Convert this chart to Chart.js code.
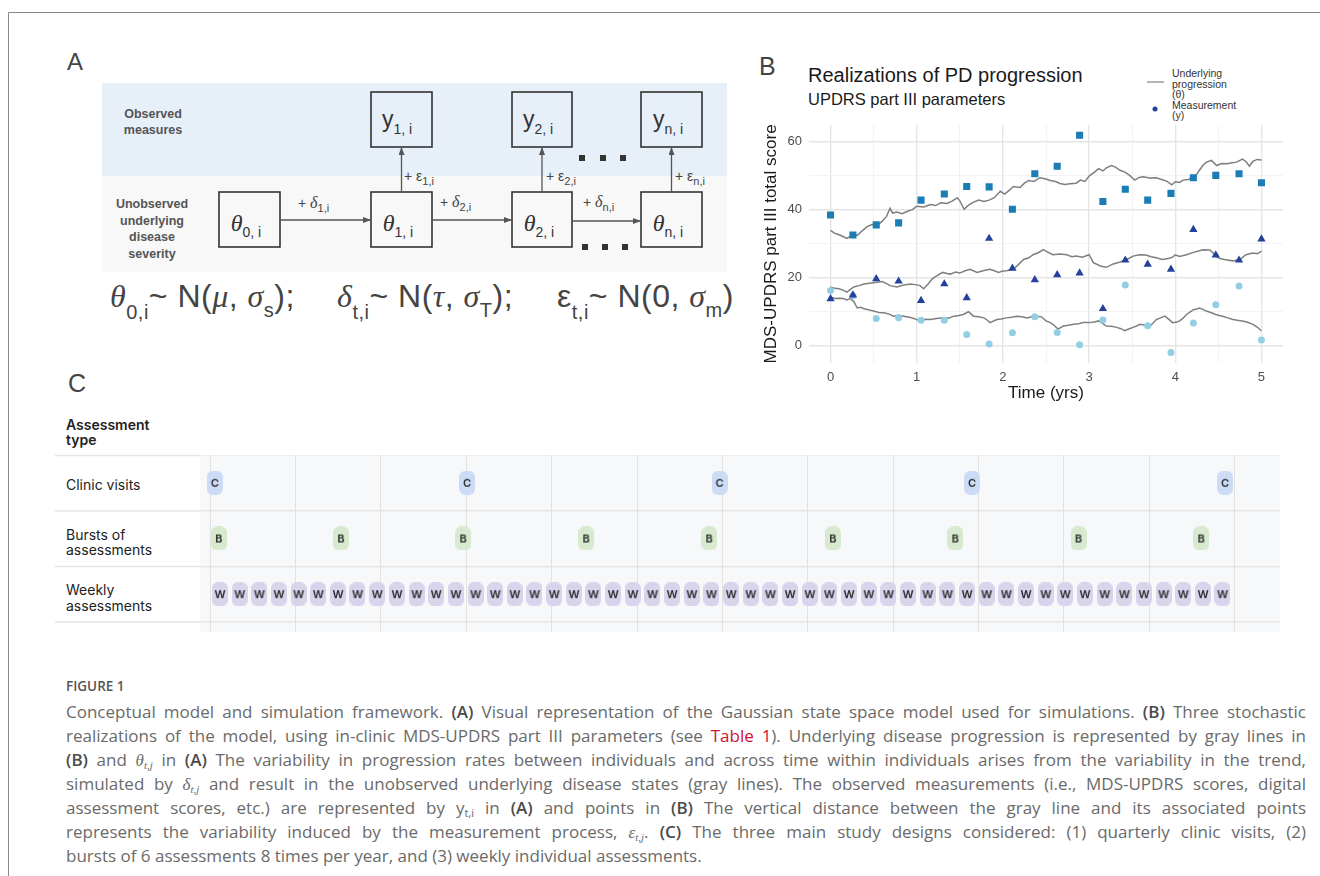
<!DOCTYPE html>
<html>
<head>
<meta charset="utf-8">
<script src="https://cdn.jsdelivr.net/npm/chart.js@4.4.1/dist/chart.umd.min.js"></script>
<style>
  body { margin: 0; background: #fff; }
  #page { position: relative; width: 1320px; height: 876px; overflow: hidden; font-family: 'Liberation Sans', Arial, sans-serif; }
  .abs { position: absolute; }
  .m { font-family: 'Liberation Serif', 'DejaVu Serif', serif; font-style: italic; }
  #caption { position: absolute; left: 66px; top: 700px; width: 1240px; font-family: 'Open Sans', sans-serif; font-size: 17px; color: #6a6a6a; }
  #caption div { height: 24px; line-height: 24px; text-align: justify; text-align-last: justify; }
  #caption div.last { text-align-last: left; }
  #caption b { font-weight: 600; color: #4a4a4a; }
  #caption sub { font-size: 11px; line-height: 0; vertical-align: -3px; }
  #caption .red { color: #d0102e; }
</style>
</head>
<body>
<div id="page">

<svg class="abs" style="left:0;top:0" width="1320" height="876" font-family="Liberation Sans, Arial, sans-serif">
  <defs>
    <marker id="ah" viewBox="0 0 8 6" refX="8" refY="3" markerWidth="8" markerHeight="6" markerUnits="userSpaceOnUse" orient="auto">
      <path d="M0,0 L8,3 L0,6 z" fill="#555"/>
    </marker>
  </defs>

  <!-- frame -->
  <line x1="8.5" y1="12.5" x2="1320" y2="12.5" stroke="#8a8a8a" stroke-width="1"/>
  <line x1="8.5" y1="12.5" x2="8.5" y2="876" stroke="#8a8a8a" stroke-width="1"/>

  <!-- panel A -->
  <text x="67" y="70" font-size="24" fill="#444">A</text>
  <rect x="102" y="83" width="625" height="93" fill="#e7eff9"/>
  <rect x="102" y="176" width="625" height="96" fill="#f8f8f8"/>
  <g font-weight="bold" font-size="12.5" fill="#555" text-anchor="middle">
    <text x="153" y="118">Observed</text>
    <text x="153" y="134">measures</text>
    <text x="152" y="208">Unobserved</text>
    <text x="152" y="225">underlying</text>
    <text x="152" y="241">disease</text>
    <text x="152" y="258">severity</text>
  </g>
  <g fill="none" stroke="#333" stroke-width="1.6">
    <rect x="219" y="192" width="61" height="55"/>
    <rect x="371" y="92" width="61" height="55"/>
    <rect x="371" y="192" width="61" height="55"/>
    <rect x="512" y="92" width="60" height="55"/>
    <rect x="512" y="192" width="60" height="55"/>
    <rect x="641" y="92" width="61" height="55"/>
    <rect x="641" y="192" width="61" height="55"/>
  </g>
  <g stroke="#555" stroke-width="1.3">
    <line x1="280" y1="220" x2="371" y2="220" marker-end="url(#ah)"/>
    <line x1="432" y1="220" x2="512" y2="220" marker-end="url(#ah)"/>
    <line x1="572" y1="221" x2="641" y2="221" marker-end="url(#ah)"/>
    <line x1="401.5" y1="192" x2="401.5" y2="147" marker-end="url(#ah)"/>
    <line x1="542" y1="192" x2="542" y2="147" marker-end="url(#ah)"/>
    <line x1="671.5" y1="192" x2="671.5" y2="147" marker-end="url(#ah)"/>
  </g>
  <g fill="#333" text-anchor="middle">
    <text x="397" y="127" font-size="23">y<tspan font-size="14" dy="7">1, i</tspan></text>
    <text x="538" y="127" font-size="23">y<tspan font-size="14" dy="7">2, i</tspan></text>
    <text x="668" y="127" font-size="23">y<tspan font-size="14" dy="7">n, i</tspan></text>
    <text x="246" y="231" font-size="24"><tspan class="m">θ</tspan><tspan font-size="14" dy="6">0, i</tspan></text>
    <text x="398" y="231" font-size="24"><tspan class="m">θ</tspan><tspan font-size="14" dy="6">1, i</tspan></text>
    <text x="539" y="231" font-size="24"><tspan class="m">θ</tspan><tspan font-size="14" dy="6">2, i</tspan></text>
    <text x="668" y="231" font-size="24"><tspan class="m">θ</tspan><tspan font-size="14" dy="6">n, i</tspan></text>
  </g>
  <g fill="#444" font-size="14">
    <text x="298" y="208">+ <tspan class="m" font-size="16">δ</tspan><tspan font-size="11" dy="4">1,i</tspan></text>
    <text x="440" y="207">+ <tspan class="m" font-size="16">δ</tspan><tspan font-size="11" dy="4">2,i</tspan></text>
    <text x="583" y="207">+ <tspan class="m" font-size="16">δ</tspan><tspan font-size="11" dy="4">n,i</tspan></text>
    <text x="404" y="181">+ ε<tspan font-size="11" dy="4">1,i</tspan></text>
    <text x="546" y="181">+ ε<tspan font-size="11" dy="4">2,i</tspan></text>
    <text x="675" y="181">+ ε<tspan font-size="11" dy="4">n,i</tspan></text>
  </g>
  <g fill="#333">
    <rect x="579" y="155" width="6" height="6"/>
    <rect x="600" y="155" width="6" height="6"/>
    <rect x="620" y="155" width="6" height="6"/>
    <rect x="582" y="244" width="6" height="6"/>
    <rect x="602" y="244" width="6" height="6"/>
    <rect x="622" y="244" width="6" height="6"/>
  </g>
  <g fill="#444" font-size="32" letter-spacing="0.5">
    <text x="110" y="307"><tspan class="m">θ</tspan><tspan font-size="20" dy="12">0,i</tspan><tspan dy="-12">~ N(</tspan><tspan class="m">μ</tspan>, <tspan class="m">σ</tspan><tspan font-size="20" dy="10">s</tspan><tspan dy="-10">);</tspan></text>
    <text x="337" y="307"><tspan class="m">δ</tspan><tspan font-size="20" dy="12">t,i</tspan><tspan dy="-12">~ N(</tspan><tspan class="m">τ</tspan>, <tspan class="m">σ</tspan><tspan font-size="20" dy="10">T</tspan><tspan dy="-10">);</tspan></text>
    <text x="557" y="307">ε<tspan font-size="20" dy="12">t,i</tspan><tspan dy="-12">~ N(0, </tspan><tspan class="m">σ</tspan><tspan font-size="20" dy="10">m</tspan><tspan dy="-10">)</tspan></text>
  </g>

  <!-- panel B labels -->
  <text x="759" y="75" font-size="25" fill="#444">B</text>
  <text x="808" y="82" font-size="20" fill="#1a1a1a">Realizations of PD progression</text>
  <text x="808" y="105" font-size="16.5" fill="#1a1a1a">UPDRS part III parameters</text>
  <line x1="1147" y1="82" x2="1164" y2="82" stroke="#8c8c8c" stroke-width="1.3"/>
  <circle cx="1155" cy="109" r="2.5" fill="#24409a"/>
  <g font-size="10.5" fill="#333">
    <text x="1172" y="77">Underlying</text>
    <text x="1172" y="87.5">progression</text>
    <text x="1172" y="98">(θ)</text>
    <text x="1172" y="108.5">Measurement</text>
    <text x="1172" y="119">(y)</text>
  </g>

  <!-- panel C labels -->
  <text x="68" y="392" font-size="25" fill="#444">C</text>
  <g font-family="Inter, sans-serif" font-size="14" fill="#222">
    <text x="66" y="430" font-weight="600">Assessment</text>
    <text x="66" y="445" font-weight="600">type</text>
    <text x="66" y="490">Clinic visits</text>
    <text x="66" y="540">Bursts of</text>
    <text x="66" y="555">assessments</text>
    <text x="66" y="595">Weekly</text>
    <text x="66" y="611">assessments</text>
  </g>
  <g stroke="#e6e6e6" stroke-width="1.5">
    <line x1="55" y1="455.5" x2="200" y2="455.5"/>
    <line x1="55" y1="511" x2="200" y2="511"/>
    <line x1="55" y1="566.5" x2="200" y2="566.5"/>
    <line x1="55" y1="622" x2="200" y2="622"/>
  </g>

  <text x="66" y="691" font-family="Open Sans, sans-serif" font-size="13.5" font-weight="600" fill="#555">FIGURE 1</text>
</svg>

<div class="abs" style="left:740px;top:110px;width:560px;height:300px"><canvas id="progChart"></canvas></div>
<div class="abs" style="left:200px;top:455px;width:1080px;height:177px;background:#f7f8fa"><canvas id="designChart"></canvas></div>

<div id="caption">
  <div>Conceptual model and simulation framework. <b>(A)</b> Visual representation of the Gaussian state space model used for simulations. <b>(B)</b> Three stochastic</div>
  <div>realizations of the model, using in-clinic MDS-UPDRS part III parameters (see <span class="red">Table 1</span>). Underlying disease progression is represented by gray lines in</div>
  <div><b>(B)</b> and <span class="m">θ<sub>t,j</sub></span> in <b>(A)</b> The variability in progression rates between individuals and across time within individuals arises from the variability in the trend,</div>
  <div>simulated by <span class="m">δ<sub>t,j</sub></span> and result in the unobserved underlying disease states (gray lines). The observed measurements (i.e., MDS-UPDRS scores, digital</div>
  <div>assessment scores, etc.) are represented by y<sub>t,i</sub> in <b>(A)</b> and points in <b>(B)</b> The vertical distance between the gray line and its associated points</div>
  <div>represents the variability induced by the measurement process, <span class="m">ε<sub>t,j</sub></span>. <b>(C)</b> The three main study designs considered: (1) quarterly clinic visits, (2)</div>
  <div class="last">bursts of 6 assessments 8 times per year, and (3) weekly individual assessments.</div>
</div>

</div>
<script>
// Panel B: measurement times (yrs) and scores for the three realizations
const measureTimes = [0, 0.26, 0.53, 0.79, 1.05, 1.32, 1.58, 1.84, 2.11, 2.37, 2.63, 2.89, 3.16, 3.42, 3.68, 3.95, 4.21, 4.47, 4.74, 5];
const scoresHigh = [38.4, 32.5, 35.5, 36.1, 42.8, 44.6, 46.8, 46.7, 40.1, 50.6, 52.8, 61.9, 42.4, 46.0, 42.8, 44.8, 49.4, 50.1, 50.6, 47.9];
const scoresMid = [13.7, 14.8, 19.6, 18.9, 13.2, 18.1, 14.0, 31.5, 22.7, 19.3, 20.8, 21.3, 10.8, 25.1, 23.9, 22.4, 34.1, 26.6, 25.1, 31.3];
const scoresLow = [16.2, 14.6, 7.9, 8.1, 7.4, 7.4, 3.2, 0.4, 3.7, 8.4, 3.8, 0.2, 7.5, 17.8, 5.8, -2.1, 6.6, 12.0, 17.5, 1.6];

// underlying progression (theta), [time, score]
const pathHigh = [[0,33.9],[0.05,33.0],[0.1,32.6],[0.15,32.0],[0.19,31.5],[0.23,32.2],[0.27,32.6],[0.31,32.4],[0.36,33.6],[0.42,34.9],[0.48,35.6],[0.54,35.3],[0.6,36.6],[0.65,38.0],[0.69,40.4],[0.72,39.0],[0.77,39.3],[0.83,38.8],[0.9,39.6],[0.95,40.0],[1.0,41.0],[1.08,40.8],[1.16,41.5],[1.22,41.2],[1.28,42.0],[1.35,41.8],[1.41,42.5],[1.47,43.5],[1.5,42.6],[1.55,40.1],[1.6,41.3],[1.66,42.2],[1.72,42.8],[1.78,42.4],[1.84,42.8],[1.9,43.5],[1.97,45.4],[2.02,44.6],[2.08,45.8],[2.12,46.8],[2.2,46.5],[2.25,47.8],[2.3,48.6],[2.36,48.3],[2.43,49.4],[2.5,49.0],[2.55,48.6],[2.62,48.2],[2.66,47.7],[2.72,47.4],[2.78,47.6],[2.85,47.8],[2.9,48.7],[2.95,48.3],[3.01,50.1],[3.06,51.0],[3.11,52.1],[3.16,51.4],[3.2,52.3],[3.26,53.0],[3.3,52.6],[3.36,51.6],[3.42,51.0],[3.47,50.1],[3.53,48.7],[3.58,49.5],[3.63,49.7],[3.7,49.3],[3.78,49.4],[3.84,48.9],[3.9,48.4],[3.96,47.3],[4.0,48.2],[4.05,48.0],[4.09,48.7],[4.15,48.9],[4.21,49.4],[4.25,50.5],[4.28,51.6],[4.32,53.0],[4.36,54.0],[4.42,54.5],[4.48,53.0],[4.54,53.6],[4.6,53.5],[4.66,53.8],[4.71,54.0],[4.78,54.9],[4.82,54.2],[4.86,52.8],[4.9,54.2],[4.95,54.8],[5.0,54.6]];
const pathMid = [[0,17.2],[0.05,16.8],[0.1,16.7],[0.15,16.2],[0.19,15.7],[0.23,16.5],[0.27,17.2],[0.33,17.6],[0.39,18.1],[0.45,18.3],[0.54,18.6],[0.6,18.8],[0.65,18.2],[0.69,17.6],[0.77,17.2],[0.85,17.8],[0.93,18.1],[0.98,17.9],[1.04,17.6],[1.08,16.7],[1.13,18.0],[1.18,19.6],[1.24,20.6],[1.3,21.5],[1.35,21.2],[1.39,21.0],[1.45,21.6],[1.5,21.3],[1.56,22.0],[1.62,22.4],[1.7,21.5],[1.77,22.0],[1.85,22.4],[1.9,22.0],[1.95,21.5],[2.0,21.9],[2.04,22.0],[2.12,22.4],[2.18,23.8],[2.24,25.3],[2.3,25.8],[2.35,26.7],[2.41,27.3],[2.47,28.2],[2.52,27.5],[2.58,26.7],[2.66,26.9],[2.74,26.7],[2.8,26.1],[2.85,26.3],[2.92,26.0],[3.0,26.7],[3.05,24.4],[3.13,23.4],[3.2,23.0],[3.28,24.0],[3.34,24.4],[3.4,24.9],[3.46,25.6],[3.51,26.3],[3.59,26.7],[3.66,26.6],[3.72,26.1],[3.78,25.8],[3.85,25.3],[3.92,25.6],[3.97,26.0],[4.0,26.7],[4.05,26.2],[4.13,26.7],[4.21,27.4],[4.27,27.8],[4.32,28.2],[4.4,28.1],[4.44,27.2],[4.47,26.3],[4.52,25.6],[4.57,25.3],[4.62,25.1],[4.67,24.9],[4.75,25.3],[4.82,26.7],[4.9,27.2],[4.95,27.0],[5.0,27.7]];
const pathLow = [[0,14.3],[0.05,13.8],[0.1,13.9],[0.15,13.8],[0.19,13.4],[0.23,13.8],[0.27,12.9],[0.31,11.0],[0.35,11.2],[0.39,10.8],[0.45,10.4],[0.5,10.1],[0.56,9.7],[0.62,9.6],[0.68,9.2],[0.73,8.6],[0.79,8.9],[0.85,8.6],[0.93,8.2],[0.98,7.8],[1.04,7.2],[1.1,7.7],[1.16,7.6],[1.23,7.9],[1.31,8.1],[1.37,8.0],[1.43,8.6],[1.49,8.8],[1.54,9.1],[1.6,9.9],[1.66,8.6],[1.72,8.4],[1.78,8.1],[1.82,7.4],[1.85,6.7],[1.93,7.6],[1.98,7.8],[2.04,8.1],[2.1,8.3],[2.16,8.6],[2.22,8.4],[2.28,8.1],[2.34,8.5],[2.39,8.6],[2.45,8.4],[2.5,7.2],[2.55,6.7],[2.58,6.2],[2.64,4.8],[2.7,5.7],[2.76,5.9],[2.82,6.2],[2.88,6.4],[2.93,6.7],[3.0,6.7],[3.06,6.9],[3.11,7.2],[3.16,6.4],[3.2,5.7],[3.26,5.6],[3.32,5.3],[3.37,4.9],[3.41,4.3],[3.46,4.8],[3.51,5.3],[3.55,5.7],[3.59,6.2],[3.65,5.9],[3.7,5.5],[3.74,6.5],[3.78,7.6],[3.83,8.1],[3.88,8.6],[3.93,7.6],[3.97,6.7],[4.02,6.9],[4.05,7.2],[4.09,8.0],[4.13,9.1],[4.17,9.8],[4.21,10.5],[4.25,10.7],[4.28,11.0],[4.32,10.6],[4.36,10.1],[4.42,9.6],[4.47,9.1],[4.51,8.8],[4.55,8.6],[4.61,8.1],[4.67,7.6],[4.72,7.4],[4.78,7.2],[4.84,6.8],[4.9,6.2],[4.95,5.4],[5.0,4.3]];

const yearTicks = [0, 0.5, 1, 1.5, 2, 2.5, 3, 3.5, 4, 4.5, 5];
const scoreTicks = [0, 10, 20, 30, 40, 50, 60];

// Panel C: assessment positions in weeks over one year
const clinicWeeks = [0.24, 13.04, 25.85, 38.66, 51.5];
const burstWeeks = [0.45, 6.65, 12.85, 19.09, 25.33, 31.61, 37.82, 44.07, 50.3];
const weeklyWeeks = [0.50, 1.50, 2.50, 3.49, 4.49, 5.49, 6.49, 7.48, 8.48, 9.48, 10.48, 11.47, 12.47, 13.47, 14.47, 15.46, 16.46, 17.46, 18.46, 19.45, 20.45, 21.45, 22.45, 23.44, 24.44, 25.44, 26.44, 27.43, 28.43, 29.43, 30.43, 31.42, 32.42, 33.42, 34.42, 35.41, 36.41, 37.41, 38.41, 39.40, 40.40, 41.40, 42.40, 43.39, 44.39, 45.39, 46.39, 47.38, 48.38, 49.38, 50.38, 51.37];
const monthLines = [0, 4.33, 8.67, 13, 17.33, 21.67, 26, 30.33, 34.67, 39, 43.33, 47.67, 52];
const rowEdges = [-0.5, 0.5, 1.5, 2.5];

Chart.defaults.font.family = "'Liberation Sans', Arial, sans-serif";

const toPoints = (xs, ys) => xs.map((x, i) => ({ x: x, y: ys[i] }));
const toPath = (p) => p.map(d => ({ x: d[0], y: d[1] }));

function lineSet(path) {
    return {
        data: toPath(path),
        showLine: true,
        borderColor: '#7f7f7f',
        borderWidth: 1.5,
        pointRadius: 0,
        order: 5
    };
}

new Chart(document.getElementById('progChart'), {
    type: 'scatter',
    data: {
        datasets: [
            { data: toPoints(measureTimes, scoresMid), pointStyle: 'triangle', pointRadius: 4.8, backgroundColor: '#24409a', borderWidth: 0, order: 0 },
            { data: toPoints(measureTimes, scoresHigh), pointStyle: 'rect', pointRadius: 5, backgroundColor: '#1b7db3', borderWidth: 0, order: 1 },
            { data: toPoints(measureTimes, scoresLow), pointStyle: 'circle', pointRadius: 3.5, backgroundColor: '#93cfe2', borderWidth: 0, order: 2 },
            lineSet(pathHigh),
            lineSet(pathMid),
            lineSet(pathLow)
        ]
    },
    options: {
        animation: false,
        events: [],
        responsive: true,
        maintainAspectRatio: false,
        layout: { autoPadding: false, padding: { top: 8, right: 17, left: 0, bottom: 0 } },
        plugins: { legend: { display: false }, tooltip: { enabled: false } },
        scales: {
            x: {
                type: 'linear',
                min: -0.25,
                max: 5.25,
                afterBuildTicks: (s) => { s.ticks = yearTicks.map(v => ({ value: v })); },
                afterFit: (s) => { s.height = 47; },
                ticks: {
                    autoSkip: false,
                    maxRotation: 0,
                    padding: 7,
                    color: '#4d4d4d',
                    font: { size: 13 },
                    callback: (v) => Number.isInteger(v) ? v : ''
                },
                grid: {
                    drawTicks: false,
                    color: (c) => Number.isInteger(c.tick.value) ? '#e5e5e5' : '#f0f0f0',
                    lineWidth: (c) => Number.isInteger(c.tick.value) ? 1.4 : 0.8
                },
                border: { display: false },
                title: { display: true, text: 'Time (yrs)', color: '#1a1a1a', font: { size: 17 }, padding: { top: 0, bottom: 6 } }
            },
            y: {
                type: 'linear',
                min: -5.2,
                max: 65,
                afterBuildTicks: (s) => { s.ticks = scoreTicks.map(v => ({ value: v })); },
                afterFit: (s) => { s.width = 69; },
                ticks: {
                    padding: 7,
                    color: '#4d4d4d',
                    font: { size: 13 },
                    callback: (v) => v % 20 === 0 ? v : ''
                },
                grid: {
                    drawTicks: false,
                    color: (c) => c.tick.value % 20 === 0 ? '#e5e5e5' : '#f0f0f0',
                    lineWidth: (c) => c.tick.value % 20 === 0 ? 1.4 : 0.8
                },
                border: { display: false },
                title: { display: true, text: 'MDS-UPDRS part III total score', color: '#1a1a1a', font: { size: 17 }, padding: { top: 21, bottom: 0 } }
            }
        }
    }
});

// rounded badge used as point style
function badge(letter, fill) {
    const w = 16, h = 24, r = 6;
    const c = document.createElement('canvas');
    c.width = w;
    c.height = h;
    const g = c.getContext('2d');
    g.fillStyle = fill;
    g.beginPath();
    g.moveTo(r, 0);
    g.arcTo(w, 0, w, h, r);
    g.arcTo(w, h, 0, h, r);
    g.arcTo(0, h, 0, 0, r);
    g.arcTo(0, 0, w, 0, r);
    g.closePath();
    g.fill();
    g.fillStyle = '#2a2a2a';
    g.font = '600 11px Inter, sans-serif';
    g.textAlign = 'center';
    g.textBaseline = 'middle';
    g.fillText(letter, w / 2, h / 2 + 0.5);
    return c;
}

new Chart(document.getElementById('designChart'), {
    type: 'scatter',
    data: {
        datasets: [
            { data: clinicWeeks.map(w => ({ x: w, y: 0 })), pointStyle: badge('C', '#cddcf6'), pointRadius: 8 },
            { data: burstWeeks.map(w => ({ x: w, y: 1 })), pointStyle: badge('B', '#d7eacf'), pointRadius: 8 },
            { data: weeklyWeeks.map(w => ({ x: w, y: 2 })), pointStyle: badge('W', '#d9d3ec'), pointRadius: 8 }
        ]
    },
    options: {
        animation: false,
        events: [],
        responsive: true,
        maintainAspectRatio: false,
        layout: { autoPadding: false, padding: 0 },
        plugins: { legend: { display: false }, tooltip: { enabled: false } },
        scales: {
            x: {
                type: 'linear',
                min: -0.51,
                max: 54.29,
                afterBuildTicks: (s) => { s.ticks = monthLines.map(v => ({ value: v })); },
                afterFit: (s) => { s.height = 0; },
                ticks: { display: false },
                grid: { drawTicks: false, color: '#e2e2e2', lineWidth: 1 },
                border: { display: false }
            },
            y: {
                type: 'linear',
                reverse: true,
                min: -0.5,
                max: 2.68,
                afterBuildTicks: (s) => { s.ticks = rowEdges.map(v => ({ value: v })); },
                afterFit: (s) => { s.width = 0; },
                ticks: { display: false },
                grid: { drawTicks: false, color: '#e6e6e6', lineWidth: 1.5 },
                border: { display: false }
            }
        }
    }
});
</script>
</body>
</html>
